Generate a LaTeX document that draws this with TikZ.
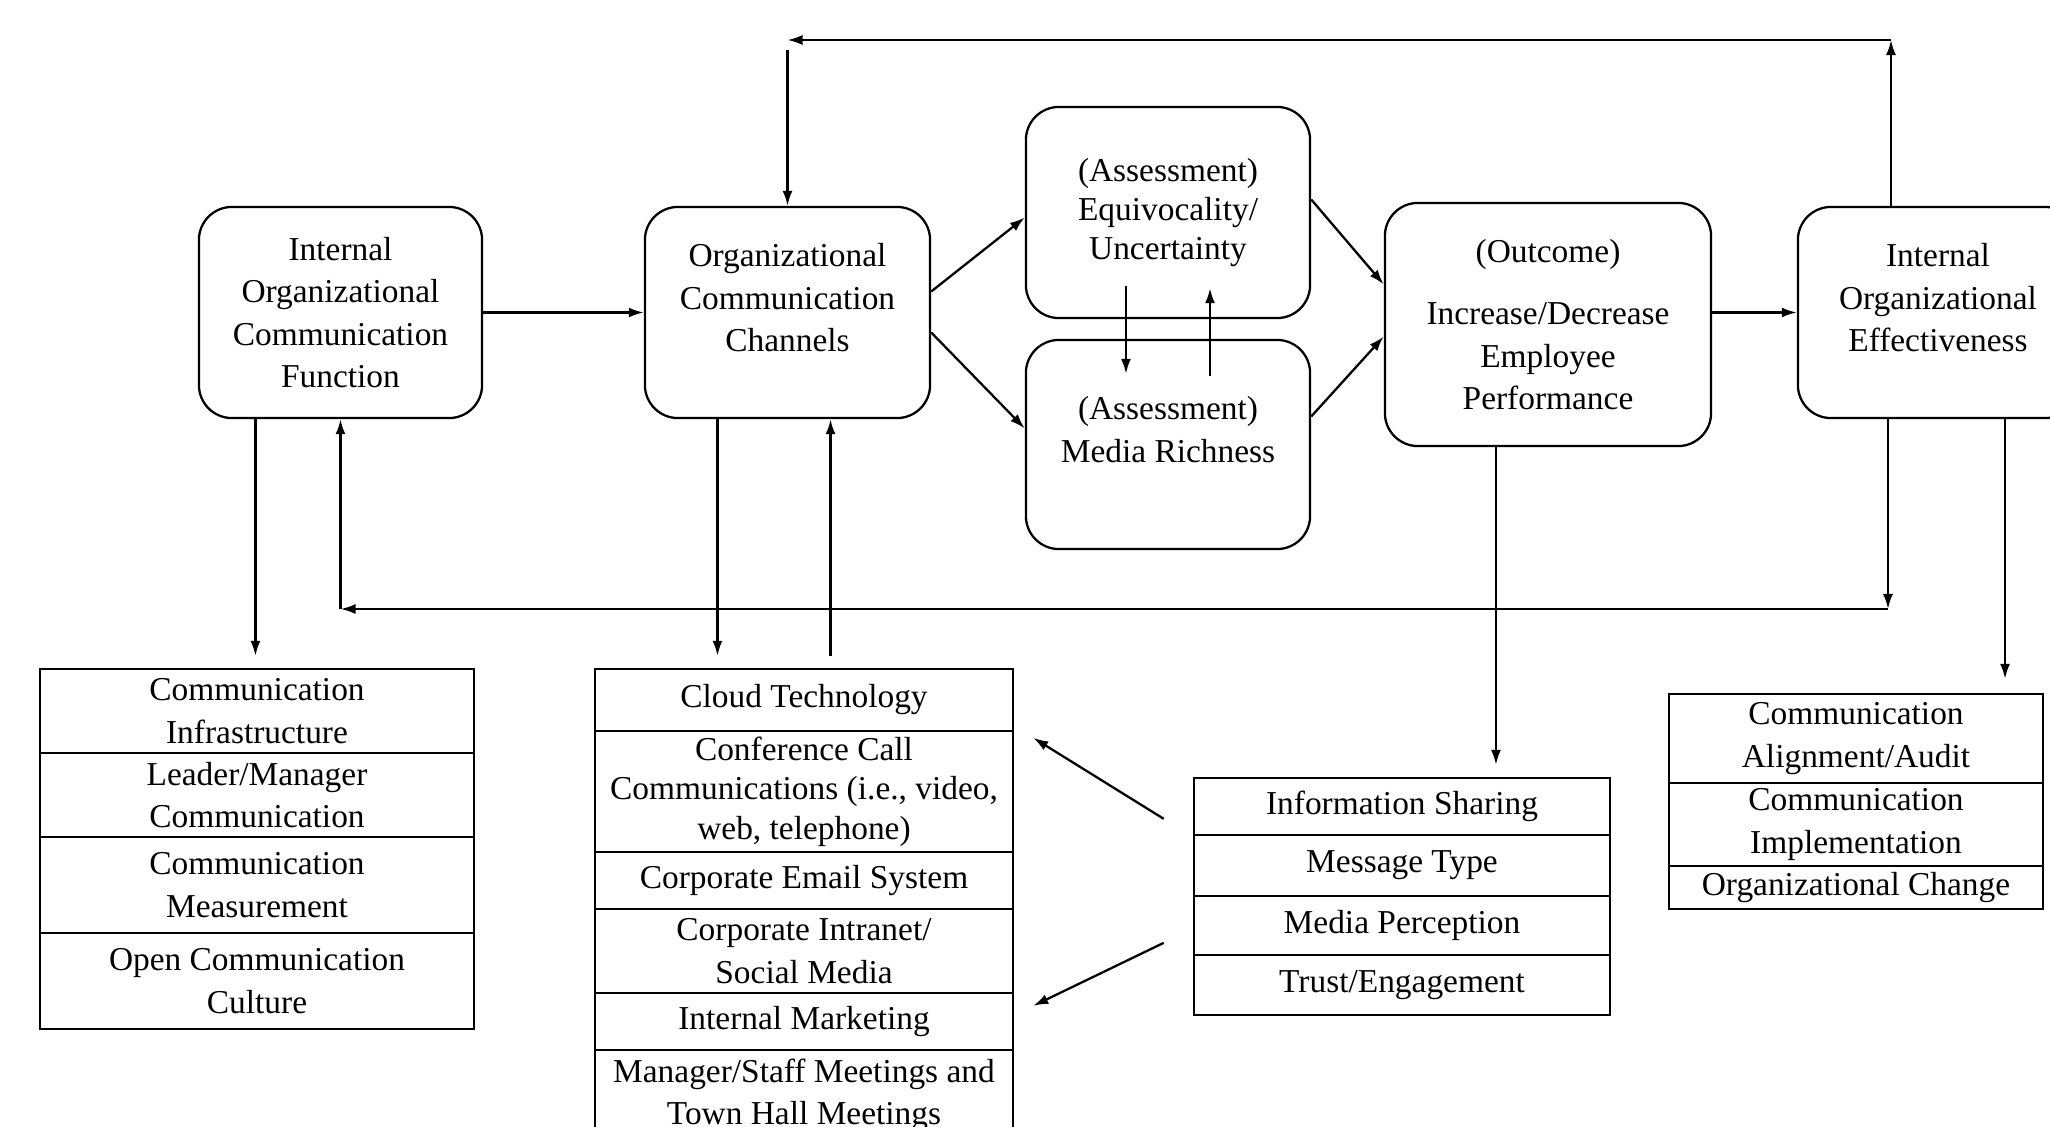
\documentclass[tikz,border=0pt]{standalone}
\usepackage{fontspec}
\setmainfont{Liberation Serif}
\usetikzlibrary{arrows.meta}

\tikzset{
  blk/.style={draw, rounded corners=0.33cm, align=center, inner sep=0pt},
  cell/.style={draw, align=center, inner sep=0pt},
  arr/.style={-{Latex[length=0.15cm,width=0.1cm]}},
}

\begin{document}
\begin{tikzpicture}[x=0.01cm, y=-0.01cm, line width=0.65pt, font=\fontsize{9.5}{12}\selectfont]
        \useasboundingbox (0,0) rectangle (2050,1127);

        % Main boxes
        \node[blk, minimum width=2.83cm, minimum height=2.11cm] (func) at (340.5,312.5) {Internal\\Organizational\\Communication\\Function};
        \node[blk, minimum width=2.85cm, minimum height=2.11cm, text depth=0.3cm] (chan) at (787.5,312.5) {Organizational\\Communication\\Channels};
        \node[blk, minimum width=2.84cm, minimum height=2.11cm, font=\fontsize{9.5}{11}\selectfont] (equiv) at (1168,212.5) {(Assessment)\\Equivocality/\\Uncertainty};
        \node[blk, minimum width=2.84cm, minimum height=2.09cm, text depth=0.3cm] (rich) at (1168,444.5) {(Assessment)\\Media Richness};
        \node[blk, minimum width=3.26cm, minimum height=2.43cm] (outc) at (1548,324.5) {(Outcome)\\[0.2cm]Increase/Decrease\\Employee\\Performance};
        \node[blk, minimum width=2.80cm, minimum height=2.11cm, text depth=0.3cm] (effect) at (1938,312.5) {Internal\\Organizational\\Effectiveness};

        % Function list
        \node[cell, minimum width=4.34cm, minimum height=0.84cm] (f1) at (257,711) {Communication\\Infrastructure};
        \node[cell, minimum width=4.34cm, minimum height=0.84cm] (f2) at (257,795) {Leader/Manager\\Communication};
        \node[cell, minimum width=4.34cm, minimum height=0.96cm] (f3) at (257,885) {Communication\\Measurement};
        \node[cell, minimum width=4.34cm, minimum height=0.96cm] (f4) at (257,981) {Open Communication\\Culture};

        % Channel list
        \node[cell, minimum width=4.18cm, minimum height=0.62cm] (c1) at (804,700) {Cloud Technology};
        \node[cell, minimum width=4.18cm, minimum height=1.21cm, font=\fontsize{9.5}{11.2}\selectfont] (c2) at (804,791.5) {Conference Call\\Communications (i.e., video,\\web, telephone)};
        \node[cell, minimum width=4.18cm, minimum height=0.57cm] (c3) at (804,880.5) {Corporate Email System};
        \node[cell, minimum width=4.18cm, minimum height=0.84cm] (c4) at (804,951) {Corporate Intranet/\\Social Media};
        \node[cell, minimum width=4.18cm, minimum height=0.57cm] (c5) at (804,1021.5) {Internal Marketing};
        \node[cell, minimum width=4.18cm, minimum height=0.90cm] (c6) at (804,1095) {Manager/Staff Meetings and\\Town Hall Meetings};

        % Performance list
        \node[cell, minimum width=4.16cm, minimum height=0.57cm] (p1) at (1402,806.5) {Information Sharing};
        \node[cell, minimum width=4.16cm, minimum height=0.61cm] (p2) at (1402,865.5) {Message Type};
        \node[cell, minimum width=4.16cm, minimum height=0.59cm] (p3) at (1402,925.5) {Media Perception};
        \node[cell, minimum width=4.16cm, minimum height=0.60cm] (p4) at (1402,985) {Trust/Engagement};

        % Effectiveness list
        \node[cell, minimum width=3.74cm, minimum height=0.89cm] (e1) at (1856,738.5) {Communication\\Alignment/Audit};
        \node[cell, minimum width=3.74cm, minimum height=0.83cm] (e2) at (1856,824.5) {Communication\\Implementation};
        \node[cell, minimum width=3.74cm, minimum height=0.43cm] (e3) at (1856,887.5) {Organizational Change};

        % Arrows between main boxes
        \draw[arr] (func.east) -- (chan.west);
        \draw[arr] ([yshift=0.21cm]chan.east) -- ([yshift=-0.05cm]equiv.west);
        \draw[arr] ([yshift=-0.2cm]chan.east) -- ([yshift=0.16cm]rich.west);
        \draw[arr] ([xshift=-0.42cm,yshift=0.33cm]equiv.south) -- ([xshift=-0.42cm,yshift=-0.35cm]rich.north);
        \draw[arr] ([xshift=0.42cm,yshift=-0.37cm]rich.north) -- ([xshift=0.42cm,yshift=0.31cm]equiv.south);
        \draw[arr] ([yshift=0.13cm]equiv.east) -- ([yshift=0.4cm]outc.west);
        \draw[arr] ([yshift=0.28cm]rich.east) -- ([yshift=-0.12cm]outc.west);
        \draw[arr] (outc.east |- effect.west) -- (effect.west);

        % Feedback loops
        \coordinate (topr) at (1891,40);
        \coordinate (topl) at (chan.north |- topr);
        \draw[arr] (effect.north -| topr) -- (topr);
        \draw[arr] (topr) -- (topl);
        \draw[arr] ([yshift=-0.1cm]topl) -- (chan.north);

        \coordinate (botr) at (1888,609);
        \coordinate (botl) at (func.south |- botr);
        \draw[arr] (effect.south -| botr) -- (botr);
        \draw[arr] (botr) -- (botl);
        \draw[arr] (botl) -- (func.south);

        % Arrows to the lists
        \draw[arr, shorten >=0.12cm] ([xshift=-0.85cm]func.south) -- ([xshift=-0.85cm]func.south |- f1.north);
        \draw[arr, shorten >=0.12cm] ([xshift=-0.7cm]chan.south) -- ([xshift=-0.7cm]chan.south |- c1.north);
        \draw[arr, shorten <=0.12cm] ([xshift=0.43cm]chan.south |- c1.north) -- ([xshift=0.43cm]chan.south);
        \draw[arr, shorten >=0.12cm] ([xshift=-0.52cm]outc.south) -- ([xshift=-0.52cm]outc.south |- p1.north);
        \draw[arr, shorten >=0.14cm] ([xshift=0.67cm]effect.south) -- ([xshift=0.67cm]effect.south |- e1.north);

        % Performance list back to channel list
        \draw[arr] ([xshift=-0.29cm,yshift=0.15cm]p2.north west) -- ([xshift=0.19cm,yshift=-0.08cm]c2.north east);
        \draw[arr] ([xshift=-0.29cm,yshift=0.11cm]p4.north west) -- ([xshift=0.19cm,yshift=-0.14cm]c5.north east);

    \end{tikzpicture}
\end{document}
